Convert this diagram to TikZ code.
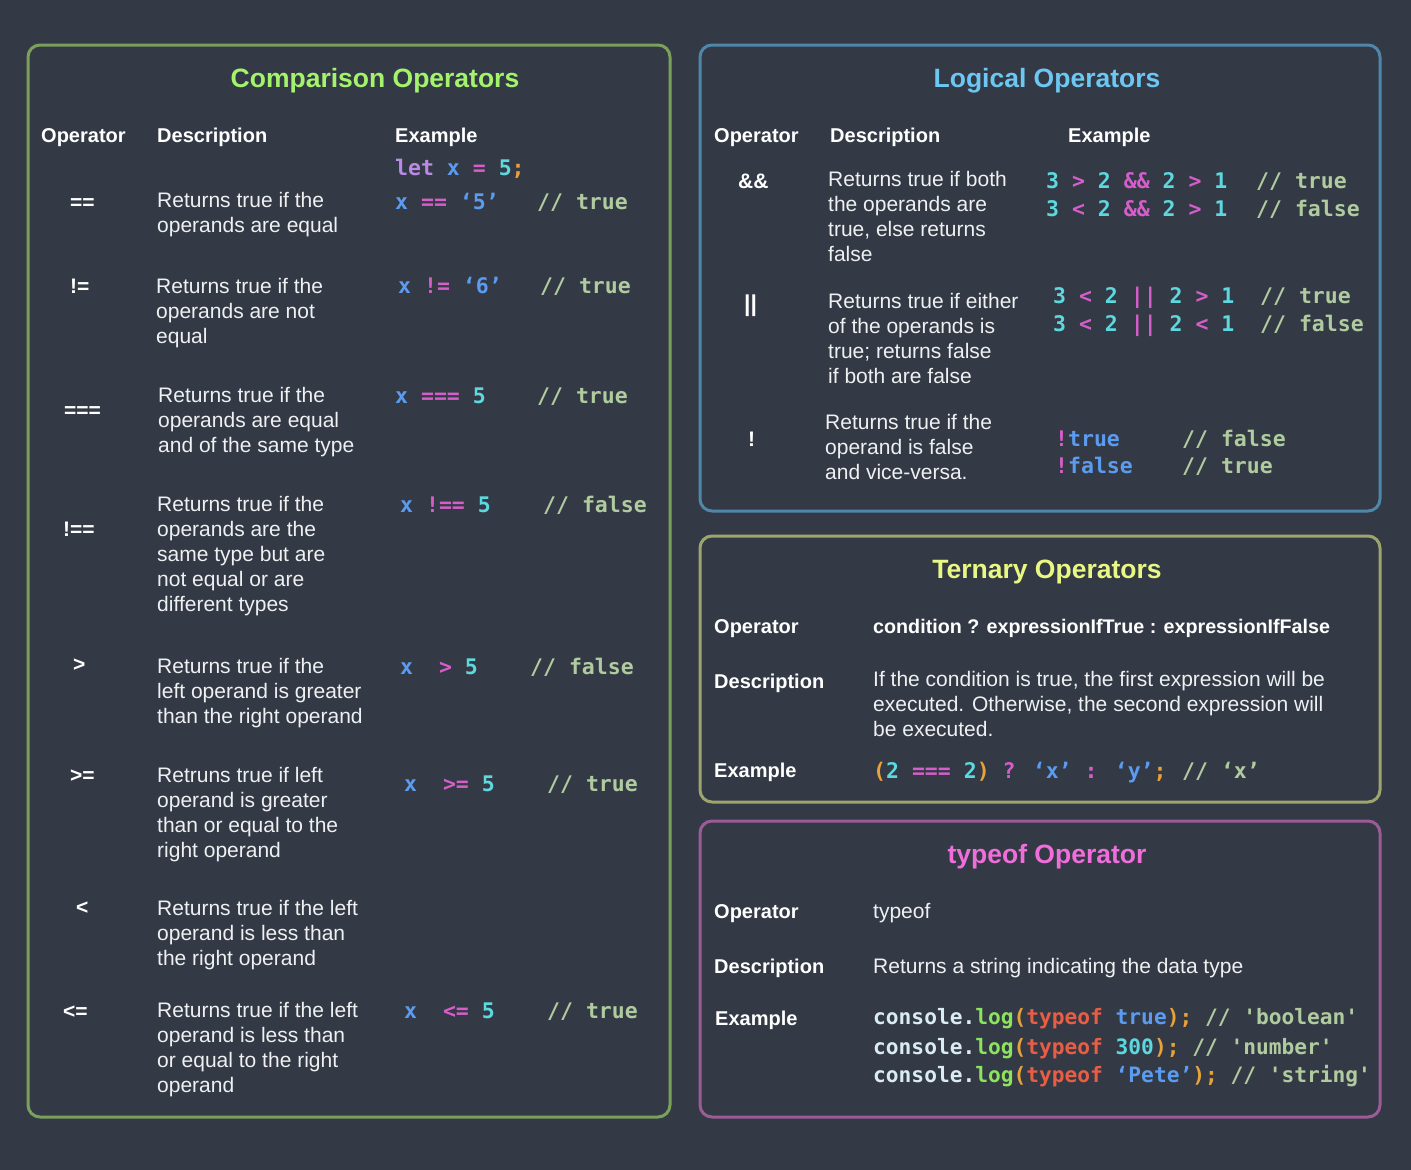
\documentclass[tikz,border=0pt]{standalone}
\usepackage{fontspec}
\setmainfont{Liberation Sans}
\newfontfamily\codefont{DejaVu Sans Mono}
\definecolor{bg}{HTML}{343A45}
\definecolor{fg}{HTML}{EEF0F2}
\definecolor{cmpBorder}{HTML}{7BA05B}
\definecolor{cmpTitle}{HTML}{A4F36C}
\definecolor{logBorder}{HTML}{4E87AA}
\definecolor{logTitle}{HTML}{6CC7F2}
\definecolor{terBorder}{HTML}{9DA56E}
\definecolor{terTitle}{HTML}{E8F882}
\definecolor{tyBorder}{HTML}{9B5B96}
\definecolor{tyTitle}{HTML}{F06DDC}
\definecolor{cBlue}{HTML}{5B9CF0}
\definecolor{cPink}{HTML}{D65ECB}
\definecolor{cCyan}{HTML}{5ED8DF}
\definecolor{cCom}{HTML}{B0CB9F}
\definecolor{cLet}{HTML}{B98BE6}
\definecolor{cOrg}{HTML}{E8A23A}
\definecolor{cCon}{HTML}{D9ECF2}
\definecolor{cLog}{HTML}{8CE35C}
\definecolor{cRed}{HTML}{E85E45}
\newcommand\tB[1]{\textcolor{cBlue}{#1}}
\newcommand\tP[1]{\textcolor{cPink}{#1}}
\newcommand\tC[1]{\textcolor{cCyan}{#1}}
\newcommand\tG[1]{\textcolor{cCom}{#1}}
\newcommand\tL[1]{\textcolor{cLet}{#1}}
\newcommand\tO[1]{\textcolor{cOrg}{#1}}
\newcommand\tW[1]{\textcolor{cCon}{#1}}
\newcommand\tN[1]{\textcolor{cLog}{#1}}
\newcommand\tR[1]{\textcolor{cRed}{#1}}
\tikzset{
  txt/.style={anchor=base west, inner sep=0pt, text=fg, font=\fontsize{21}{25}\selectfont},
  hdr/.style={anchor=base west, inner sep=0pt, text=white, font=\fontsize{20}{24}\selectfont\bfseries},
  ttl/.style={anchor=base, inner sep=0pt, font=\fontsize{26.5}{30}\selectfont\bfseries},
  opr/.style={anchor=base west, inner sep=0pt, text=white, font=\fontsize{21}{25}\selectfont\bfseries},
  code/.style={anchor=base west, inner sep=0pt, font=\codefont\bfseries\fontsize{21.5}{26}\selectfont},
  codesm/.style={anchor=base west, inner sep=0pt, font=\codefont\bfseries\fontsize{21.2}{25}\selectfont},
  cmt/.style={code, text=cCom},
  panel/.style={line width=3pt, rounded corners=12pt},
}
\newcommand\desc[4]{%
  \foreach \myline [count=\i] in {#4} {\node[txt] (#1\i) at ({#2},{#3+25*(\i-1)}) {\myline};}}
\begin{document}
\begin{tikzpicture}[x=1pt,y=-1pt]
\fill[bg] (0,0) rectangle (1411,1170);
\useasboundingbox (0,0) rectangle (1411,1170);
% panels
\draw[panel, cmpBorder] (28,45) rectangle (670,1117);
\draw[panel, logBorder] (700,45) rectangle (1380,511);
\draw[panel, terBorder] (700,536) rectangle (1380,802);
\draw[panel, tyBorder] (700,821) rectangle (1380,1117);

% ---------------- Comparison ----------------
\node[ttl, text=cmpTitle] (ct) at (375,87) {Comparison Operators};
\node[hdr] (ch1) at (41,142) {Operator};
\node[hdr] (ch2) at (157,142) {Description};
\node[hdr] (ch3) at (395,142) {Example};
\node[code] (clet) at (395,175) {\tL{let} \tB{x} \tP{=} \tC{5}\tO{;}};

\node[opr] (o1) at (70,209) {==};
\desc{d1-}{157}{207}{{Returns true if the},{operands are equal}}
\node[code] (e1) at (395,209) {\tB{x} \tP{==} \tB{‘5’}};
\node[cmt] (m1) at (537,209) {// true};

\node[opr] (o2) at (70,293) {!=};
\desc{d2-}{156}{293}{{Returns true if the},{operands are not},{equal}}
\node[code] (e2) at (398,293) {\tB{x} \tP{!=} \tB{‘6’}};
\node[cmt] (m2) at (540,293) {// true};

\node[opr] (o3) at (64,417) {===};
\desc{d3-}{158}{402}{{Returns true if the},{operands are equal},{and of the same type}}
\node[code] (e3) at (395,403) {\tB{x} \tP{===} \tC{5}};
\node[cmt] (m3) at (537,403) {// true};

\node[opr] (o4) at (63,536) {!==};
\desc{d4-}{157}{511}{{Returns true if the},{operands are the},{same type but are},{not equal or are},{different types}}
\node[code] (e4) at (400,512) {\tB{x} \tP{!==} \tC{5}};
\node[cmt] (m4) at (543,512) {// false};

\node[opr] (o5) at (73,671) {>};
\desc{d5-}{157}{673}{{Returns true if the},{left operand is greater},{than the right operand}}
\node[code] (e5) at (400,674) {\tB{x}~~\tP{>} \tC{5}};
\node[cmt] (m5) at (530,674) {// false};

\node[opr] (o6) at (70,782) {>=};
\desc{d6-}{157}{782}{{Retruns true if left},{operand is greater},{than or equal to the},{right operand}}
\node[code] (e6) at (404,791) {\tB{x}~~\tP{>=} \tC{5}};
\node[cmt] (m6) at (547,791) {// true};

\node[opr] (o7) at (76,914) {<};
\desc{d7-}{157}{915}{{Returns true if the left},{operand is less than},{the right operand}}

\node[opr] (o8) at (63,1018) {<=};
\desc{d8-}{157}{1017}{{Returns true if the left},{operand is less than},{or equal to the right},{operand}}
\node[code] (e8) at (404,1018) {\tB{x}~~\tP{<=} \tC{5}};
\node[cmt] (m8) at (547,1018) {// true};

% ---------------- Logical ----------------
\node[ttl, text=logTitle] (lt) at (1047,87) {Logical Operators};
\node[hdr] (lh1) at (714,142) {Operator};
\node[hdr] (lh2) at (830,142) {Description};
\node[hdr] (lh3) at (1068,142) {Example};

\node[opr] (lo1) at (738,188) {\&\&};
\desc{ld1-}{828}{186}{{Returns true if both},{the operands are},{true, else returns},{false}}
\node[code] (le1a) at (1046,188) {\tC{3} \tP{>} \tC{2} \tP{\&\&} \tC{2} \tP{>} \tC{1}};
\node[cmt] (lm1a) at (1256,188) {// true};
\node[code] (le1b) at (1046,216) {\tC{3} \tP{<} \tC{2} \tP{\&\&} \tC{2} \tP{>} \tC{1}};
\node[cmt] (lm1b) at (1256,216) {// false};

\node[opr, font=\fontsize{23}{25}\selectfont\bfseries] (lo2) at (744,311) {||};
\desc{ld2-}{828}{308}{{Returns true if either},{of the operands is},{true; returns false},{if both are false}}
\node[code] (le2a) at (1053,303) {\tC{3} \tP{<} \tC{2} \tP{||} \tC{2} \tP{>} \tC{1}};
\node[cmt] (lm2a) at (1260,303) {// true};
\node[code] (le2b) at (1053,331) {\tC{3} \tP{<} \tC{2} \tP{||} \tC{2} \tP{<} \tC{1}};
\node[cmt] (lm2b) at (1260,331) {// false};

\node[opr] (lo3) at (748,446) {!};
\desc{ld3-}{825}{429}{{Returns true if the},{operand is false},{and vice-versa.}}
\node[code] (le3a) at (1055,446) {\tP{!}\tB{true}};
\node[cmt] (lm3a) at (1182,446) {// false};
\node[code] (le3b) at (1055,473) {\tP{!}\tB{false}};
\node[cmt] (lm3b) at (1182,473) {// true};

% ---------------- Ternary ----------------
\node[ttl, text=terTitle] (tt) at (1047,578) {Ternary Operators};
\node[hdr] (th1) at (714,633) {Operator};
\node[hdr, font=\fontsize{19.7}{24}\selectfont\bfseries] (tv1) at (873,633) {condition ? expressionIfTrue : expressionIfFalse};
\node[hdr] (th2) at (714,688) {Description};
\desc{td-}{873}{686}{{If the condition is true, the first expression will be},{executed. Otherwise, the second expression will},{be executed.}}
\node[hdr] (th3) at (714,777) {Example};
\node[code] (te) at (873,778) {\tO{(}\tC{2} \tP{===} \tC{2}\tO{)} \tP{?} \tB{‘x’} \tP{:} \tB{‘y’}\tO{;}};
\node[cmt] (tm) at (1182,778) {// ‘x’};

% ---------------- typeof ----------------
\node[ttl, text=tyTitle] (yt) at (1047,863) {typeof Operator};
\node[hdr] (yh1) at (714,918) {Operator};
\node[txt] (yv1) at (873,918) {typeof};
\node[hdr] (yh2) at (714,973) {Description};
\node[txt] (yv2) at (873,973) {Returns a string indicating the data type};
\node[hdr] (yh3) at (715,1025) {Example};
\node[codesm] (ye1) at (873,1024) {\tW{console.}\tN{log}\tO{(}\tR{typeof} \tB{true}\tO{);} \tG{// 'boolean'}};
\node[codesm] (ye2) at (873,1054) {\tW{console.}\tN{log}\tO{(}\tR{typeof} \tC{300}\tO{);} \tG{// 'number'}};
\node[codesm] (ye3) at (873,1082) {\tW{console.}\tN{log}\tO{(}\tR{typeof} \tB{‘Pete’}\tO{);} \tG{// 'string'}};
\end{tikzpicture}
\end{document}
